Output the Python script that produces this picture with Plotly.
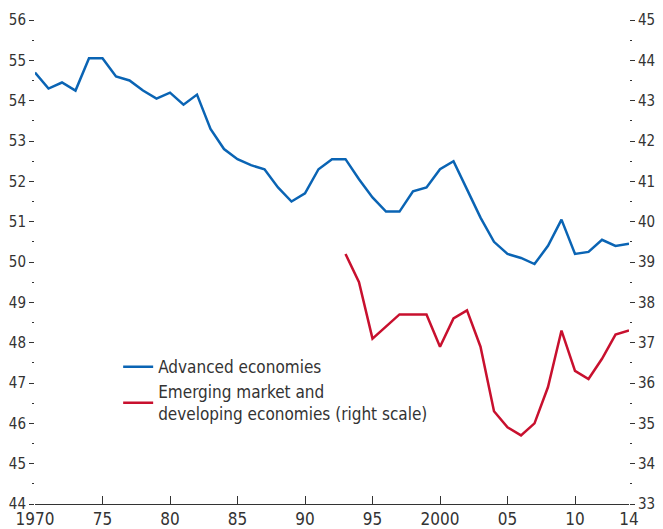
import plotly.graph_objects as go

years = list(range(1970, 2015))
advanced = [54.7, 54.3, 54.45, 54.25, 55.05, 55.05, 54.6, 54.5, 54.25, 54.05,
            54.2, 53.9, 54.15, 53.3, 52.8, 52.55, 52.4, 52.3, 51.85, 51.5,
            51.7, 52.3, 52.55, 52.55, 52.05, 51.6, 51.25, 51.25, 51.75, 51.85,
            52.3, 52.5, 51.8, 51.1, 50.5, 50.2, 50.1, 49.95, 50.4, 51.05,
            50.2, 50.25, 50.55, 50.4, 50.45]
em_years = list(range(1993, 2015))
emerging = [39.2, 38.5, 37.1, 37.4, 37.7, 37.7, 37.7, 36.9, 37.6, 37.8,
            36.9, 35.3, 34.9, 34.7, 35.0, 35.9, 37.3, 36.3, 36.1, 36.6,
            37.2, 37.3]
x_ticks = [1970, 1975, 1980, 1985, 1990, 1995, 2000, 2005, 2010, 2014]
x_labels = ["1970", "75", "80", "85", "90", "95", "2000", "05", "10", "14"]

font = "DejaVu Sans Condensed, Liberation Sans Narrow, sans-serif"
fig = go.Figure()
fig.add_trace(go.Scatter(x=years, y=advanced, mode="lines", name="Advanced economies",
                         line=dict(color="#0a64b4", width=2.5)))
fig.add_trace(go.Scatter(x=em_years, y=emerging, mode="lines", yaxis="y2",
                         name="Emerging market and<br>developing economies (right scale)",
                         line=dict(color="#c8102e", width=2.5)))

axis_common = dict(showgrid=False, zeroline=False, ticks="outside", ticklen=5,
                   tickcolor="#333", dtick=1, automargin=False, tickfont=dict(size=15),
                   minor=dict(ticks="outside", ticklen=2, dtick=0.5, tickcolor="#333"))
fig.update_layout(
    width=655, height=521,
    margin=dict(l=27, r=34, t=12, b=25),
    plot_bgcolor="white", paper_bgcolor="white",
    font=dict(family=font, size=17, color="#333"),
    showlegend=True,
    legend=dict(x=0.14, y=0.32, xanchor="left", yanchor="top", bgcolor="rgba(0,0,0,0)",
                font=dict(size=17), tracegroupgap=8),
    xaxis=dict(range=[1970, 2014], tickvals=x_ticks, ticktext=x_labels, automargin=False,
               showgrid=False, zeroline=False, showline=True, linecolor="#333",
               ticks="inside", ticklen=8, tickcolor="#333"),
    yaxis=dict(range=[44, 56], **axis_common),
    yaxis2=dict(range=[33, 45], overlaying="y", side="right", anchor="x", **axis_common),
)
fig.write_html("out.html")
